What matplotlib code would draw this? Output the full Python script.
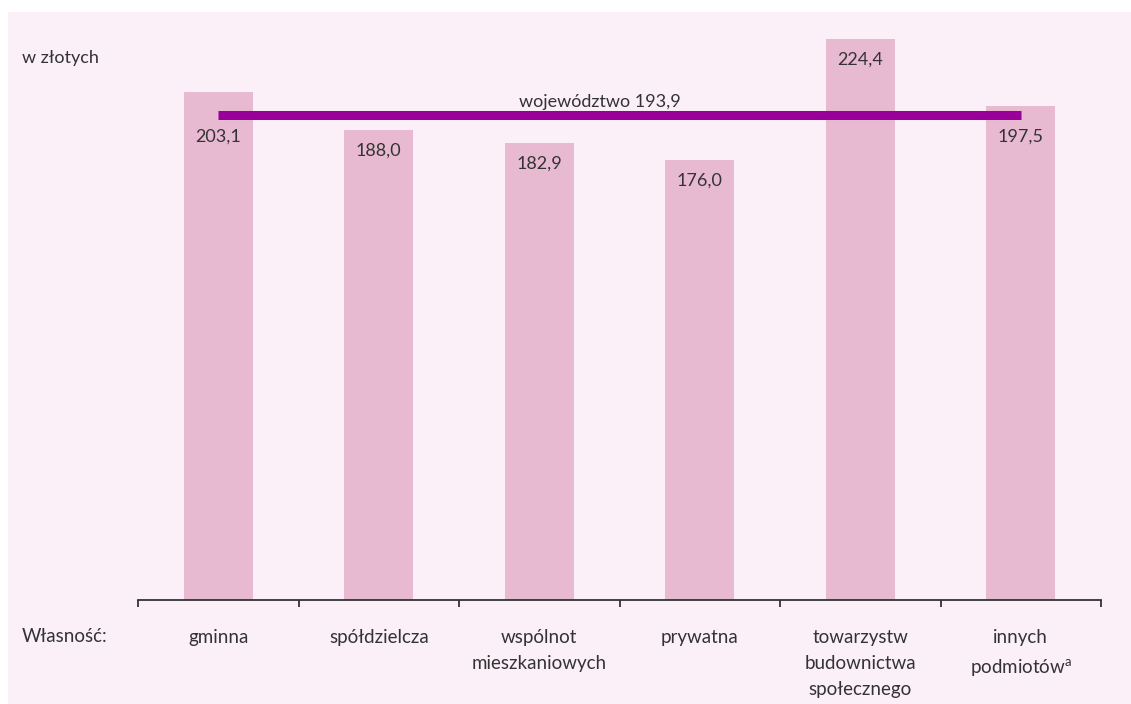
import matplotlib
matplotlib.use('Agg')
import matplotlib.pyplot as plt
from matplotlib.patches import Rectangle

plt.rcParams['font.family'] = ['Lato', 'DejaVu Sans']
plt.rcParams['mathtext.fontset'] = 'custom'
plt.rcParams['mathtext.rm'] = 'Lato'

# average monthly charge per ownership type (PLN)
categories = ['gminna', 'spółdzielcza', 'wspólnot\nmieszkaniowych', 'prywatna',
              'towarzystw\nbudownictwa\nspołecznego', 'innych\npodmiotów$^{\\mathrm{a}}$']
values = [203.1, 188.0, 182.9, 176.0, 224.4, 197.5]
average = 193.9

BG = '#FBF0F7'
BAR = '#E8BAD1'
LINE = '#990099'
TEXT = '#333333'


def fmt(v):
    return '{:.1f}'.format(v).replace('.', ',')


fig = plt.figure(figsize=(11.31, 7.04), dpi=100, facecolor='white')
fig.patches.append(Rectangle((8 / 1131, 0), 1, 692 / 704, transform=fig.transFigure,
                             facecolor=BG, edgecolor='none', zorder=-10))

ax = fig.add_axes([138 / 1131, 104 / 704, 963 / 1131, 588 / 704])
ax.set_facecolor('none')

x = list(range(len(categories)))
ax.bar(x, values, width=0.43, color=BAR, zorder=1)
ax.plot([x[0], x[-1]], [average, average], color=LINE, lw=6.5, solid_capstyle='butt', zorder=2)
ax.annotate('województwo ' + fmt(average), xy=(2.38, average), xytext=(0, 6),
            textcoords='offset points', ha='center', va='baseline', fontsize=13, color=TEXT)

for xi, v in zip(x, values):
    # labels of bars just above the average line go below the line
    anchor = average if average < v < average + 12 else v
    ax.annotate(fmt(v), xy=(xi, anchor), xytext=(0, -15), textcoords='offset points',
                ha='center', va='center', fontsize=13, color=TEXT, zorder=3)

ax.set_xlim(-0.5, len(categories) - 0.5)
ax.set_ylim(0, 235.3)
for side in ['left', 'right', 'top']:
    ax.spines[side].set_visible(False)
ax.spines['bottom'].set_color(TEXT)
ax.spines['bottom'].set_linewidth(1.3)
ax.set_yticks([])

ax.set_xticks(x)
ax.set_xticklabels(categories, fontsize=13.5, color=TEXT, linespacing=1.65, va='top')
ax.tick_params(axis='x', which='major', length=0, pad=21)
ax.set_xticks([i - 0.5 for i in range(len(categories) + 1)], minor=True)
ax.tick_params(axis='x', which='minor', length=5, width=1.3, color=TEXT, direction='out')

fig.text(22 / 1131, 1 - 58 / 704, 'w złotych', fontsize=13, color=TEXT, ha='left', va='center')
fig.text(22 / 1131, 1 - 636 / 704, 'Własność:', fontsize=13.5, color=TEXT, ha='left', va='center')

fig.savefig('out.png', dpi=100, facecolor=fig.get_facecolor())
